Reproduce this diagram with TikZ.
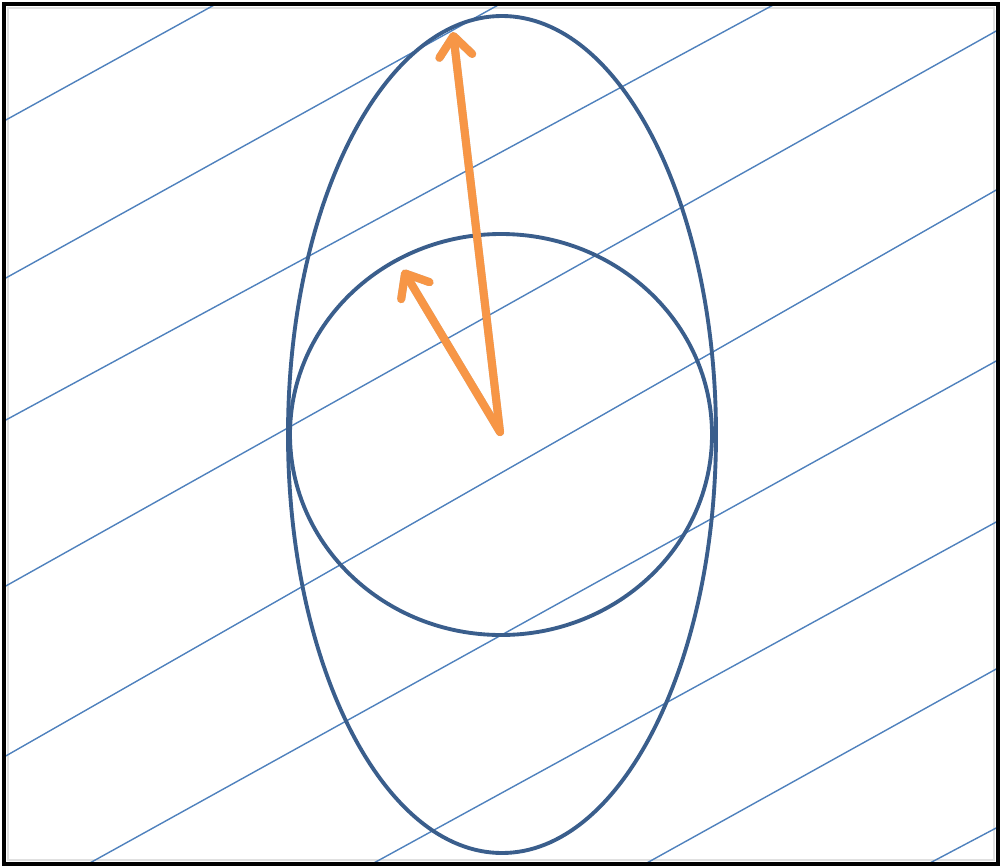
\documentclass[tikz,border=0pt]{standalone}
\usepackage{xcolor}
\usepackage{tikz}
\usetikzlibrary{arrows.meta}

\definecolor{hatchblue}{HTML}{4F81BD}
\definecolor{shapeblue}{HTML}{3A5E8C}
\definecolor{vecorange}{HTML}{F79646}

\begin{document}
\begin{tikzpicture}[
  x=0.02cm, y=-0.02cm,
  frame/.style  = {draw=black, line width=2.4pt},
  inshade/.style= {draw=black!12, line width=1.6pt},
  hatch/.style  = {draw=hatchblue, line width=0.8pt},
  outline/.style= {draw=shapeblue, line width=2.2pt},
  vec/.style    = {draw=vecorange, line width=4.6pt, line cap=round, line join=round,
                   -{Straight Barb[length=4mm,width=6.6mm,line cap=round,line join=round]}},
  vecshade/.style = {vec, draw=black, opacity=0.22}
]
\useasboundingbox (0,0) rectangle (1001,866);

%% ---- frame --------------------------------------------------------
\draw[inshade] (8,8) rectangle (994,860);

%% ---- slanted lines ------------------------------------------------
\foreach \xa/\ya/\xb/\yb in {4/121/216/4, 4/279/500/4, 4/421/775/4,
                             4/587/998/30, 4/757/998/189, 88/864/998/360,
                             372/864/998/521, 645/864/998/668, 928/864/998/827}
  \draw[hatch] (\xa,\ya) -- (\xb,\yb);

%% ---- ellipse and circle -------------------------------------------
\draw[outline] (502,434.5) ellipse [x radius=214, y radius=418.5];
\draw[outline] (501,434.5) ellipse [x radius=211, y radius=200.5];

%% ---- vectors ------------------------------------------------------
\coordinate (o)     at (500,432);
\coordinate (longtip)  at (453,32);
\coordinate (shorttip) at (403,270);

\begin{scope}[shift={(2.5,2.5)}]
  \draw[vecshade] (o) -- (longtip);
  \draw[vecshade] (o) -- (shorttip);
\end{scope}
\draw[vec] (o) -- (longtip);
\draw[vec] (o) -- (shorttip);

\draw[frame] (4,4) rectangle (998,864);
\end{tikzpicture}
\end{document}
